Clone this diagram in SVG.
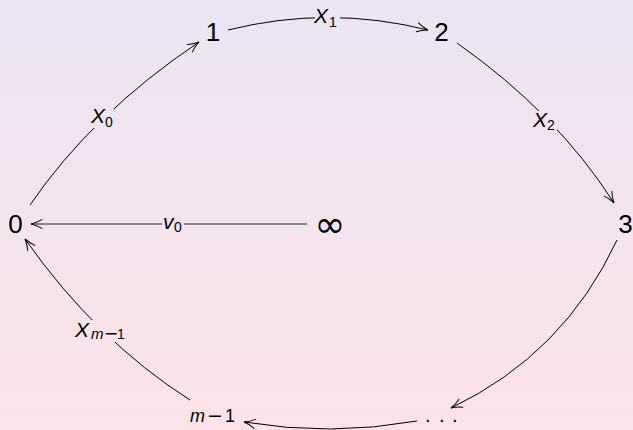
<svg xmlns="http://www.w3.org/2000/svg" width="633" height="430" viewBox="0 0 633 430">
<defs>
<linearGradient id="bg" gradientUnits="userSpaceOnUse" x1="0" y1="0" x2="0" y2="430">
<stop offset="0" stop-color="#ebe4f3"/>
<stop offset="1" stop-color="#fbe3e8"/>
</linearGradient>
<marker id="arr" markerUnits="userSpaceOnUse" markerWidth="16" markerHeight="12" refX="0" refY="0" viewBox="-13 -6 16 12" orient="auto" overflow="visible">
<path d="M-11,-4.5 C-7,-2 -2.5,-0.6 0,0 C-2.5,0.6 -7,2 -11,4.5" fill="none" stroke="#000" stroke-width="1" stroke-linecap="round"/>
</marker>
<style>
.n{font-family:"Liberation Sans",Arial,sans-serif;font-size:26px;fill:#000;text-anchor:middle}
.lab{font-family:"Liberation Sans",Arial,sans-serif;font-size:21px;font-style:italic;fill:#000}
.sub{font-family:"Liberation Sans",Arial,sans-serif;font-size:14px;fill:#000}
.mn{font-family:"DejaVu Sans",sans-serif;font-style:normal}
.e{fill:none;stroke:#000;stroke-width:1;marker-end:url(#arr)}
.mask{fill:url(#bg)}
</style>
</defs>
<rect x="0" y="0" width="633" height="430" fill="url(#bg)"/>
<g id="connectors">
<path class="e" d="M30,205 Q92.5,113.5 199,42"/>
<path class="e" d="M228,30 Q328,5 428,30"/>
<path class="e" d="M457,43 Q556.5,113 614,203"/>
<path class="e" d="M617,240 Q564,354 451,408"/>
<path class="e" d="M417,421 Q330.5,436.5 244,422"/>
<path class="e" d="M190,400 Q96.5,340.5 25,239"/>
<path class="e" d="M307,224 L31,224" style="stroke:#222"/>
<rect class="mask" x="94" y="109" width="20" height="19"/>
<text class="lab" x="91" y="123">X</text><text class="sub" x="105" y="127">0</text>
<rect class="mask" x="315" y="7" width="25" height="21"/>
<text class="lab" x="314" y="23">X</text><text class="sub" x="329" y="27">1</text>
<rect class="mask" x="535" y="111" width="22" height="19"/>
<text class="lab" x="533" y="127">X</text><text class="sub" x="547" y="130">2</text>
<rect class="mask" x="162" y="214" width="22" height="20"/>
<text class="lab" x="163" y="229">v</text><text class="sub" x="174" y="232">0</text>
<rect class="mask" x="77" y="320" width="51" height="22"/>
<text class="lab" x="75" y="337">X</text><text class="sub" y="339"><tspan x="91" font-style="italic" font-size="15">m</tspan><tspan x="104" class="mn" font-size="17">−</tspan><tspan x="117">1</tspan></text>
</g>
<g id="node-0"><text class="n" x="15.5" y="233">0</text></g>
<g id="node-1"><text class="n" x="213" y="41">1</text></g>
<g id="node-2"><text class="n" x="441.5" y="41">2</text></g>
<g id="node-3"><text class="n" x="625.5" y="233">3</text></g>
<g id="node-inf"><text class="n" x="330" y="237" style="font-family:'DejaVu Sans',sans-serif;font-size:37px">∞</text></g>
<g id="node-m1"><text class="lab" y="422" style="font-size:18px"><tspan x="190">m</tspan><tspan x="207" class="mn" font-size="19">−</tspan><tspan x="225" font-style="normal">1</tspan></text></g>
<g id="node-dots"><text class="n" y="422" style="font-size:20px;text-anchor:start" x="425 439 452">...</text></g>
</svg>
